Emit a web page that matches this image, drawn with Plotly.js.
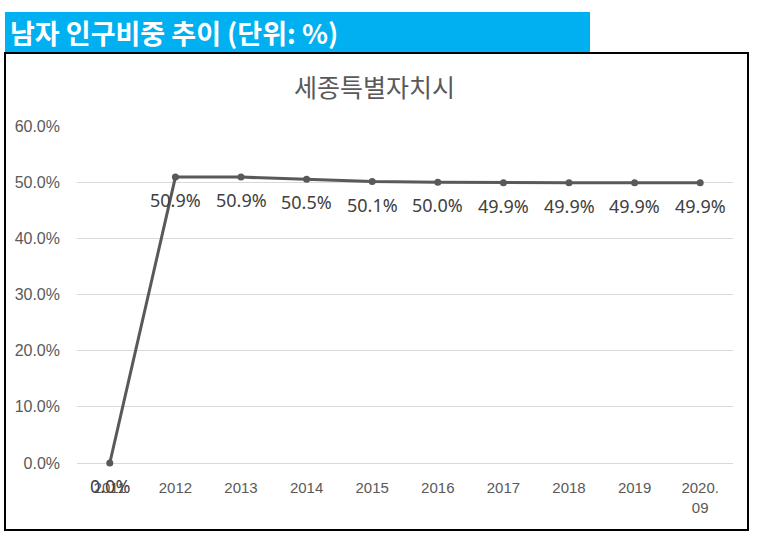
<!DOCTYPE html>
<html>
<head>
<meta charset="utf-8">
<script src="https://cdn.plot.ly/plotly-3.0.1.min.js"></script>
<style>html,body{margin:0;padding:0;background:#fff;}#chart{width:760px;height:539px;}</style>
</head>
<body>
<div id="chart"></div>
<script>
var categories = ["2011", "2012", "2013", "2014", "2015", "2016", "2017", "2018", "2019", "2020.<br>09"];
var maleShare = [0.000, 0.509, 0.509, 0.505, 0.501, 0.500, 0.499, 0.499, 0.499, 0.499];
var headerText = "남자 인구비중 추이 (단위: %)";
var chartTitle = "세종특별자치시";

// pixel helpers for paper coordinates (plot area: x 77..733, y 126..463)
var L = 77, R = 733, T = 126, B = 463;
function px(x){ return (x - L) / (R - L); }
function py(y){ return (B - y) / (B - T); }

var trace = {
  x: categories,
  y: maleShare,
  type: 'scatter',
  mode: 'lines+markers',
  line: {color: '#595959', width: 3},
  marker: {color: '#595959', size: 7},
  cliponaxis: false,
  hoverinfo: 'skip'
};

var labelAnnotations = categories.map(function(c, i){
  return {
    x: i, y: maleShare[i], xref: 'x', yref: 'y',
    text: (maleShare[i] * 100).toFixed(1) + '%',
    showarrow: false, xanchor: 'center', yanchor: 'middle',
    yshift: -23,
    font: {family: 'Noto Sans, sans-serif', size: 18, color: '#404040'}
  };
});

var layout = {
  width: 760, height: 539,
  margin: {l: L, r: 760 - R, t: T, b: 539 - B, pad: 0},
  paper_bgcolor: '#ffffff',
  plot_bgcolor: '#ffffff',
  showlegend: false,
  font: {family: 'Liberation Sans, Arial, sans-serif', color: '#595959'},
  xaxis: {
    type: 'category',
    range: [-0.5, 9.5],
    showgrid: false,
    zeroline: false,
    showline: false,
    ticks: '',
    ticklabelstandoff: 14,
    tickfont: {family: 'Liberation Sans Narrow, Liberation Sans, sans-serif', size: 15, color: '#595959'},
    fixedrange: true
  },
  yaxis: {
    range: [0, 0.6],
    dtick: 0.1,
    tickformat: '.1%',
    showgrid: true,
    gridcolor: '#D9D9D9',
    gridwidth: 1,
    zeroline: true,
    zerolinecolor: '#D9D9D9',
    zerolinewidth: 1,
    showline: false,
    ticks: '',
    ticklabelstandoff: 16,
    tickfont: {family: 'Liberation Sans, Arial, sans-serif', size: 16, color: '#595959'},
    fixedrange: true
  },
  shapes: [
    {type: 'rect', xref: 'paper', yref: 'paper', layer: 'below',
     x0: px(5), x1: px(590), y0: py(53), y1: py(12),
     fillcolor: '#00B0F0', line: {width: 0}},
    {type: 'rect', xref: 'paper', yref: 'paper', layer: 'above',
     x0: px(5), x1: px(748), y0: py(530), y1: py(53),
     fillcolor: 'rgba(0,0,0,0)', line: {color: '#000000', width: 2}}
  ],
  annotations: [
    {text: '<b>' + headerText + '</b>', xref: 'paper', yref: 'paper',
     x: px(8), y: py(33), xanchor: 'left', yanchor: 'middle', showarrow: false,
     font: {family: 'Noto Sans CJK KR, sans-serif', size: 27, color: '#ffffff'}},
    {text: chartTitle, xref: 'paper', yref: 'paper',
     x: px(374), y: py(86), xanchor: 'center', yanchor: 'middle', showarrow: false,
     font: {family: 'Noto Sans CJK KR, sans-serif', size: 25, color: '#595959'}}
  ].concat(labelAnnotations)
};

Plotly.newPlot('chart', [trace], layout, {displayModeBar: false, staticPlot: true});
</script>
</body>
</html>
